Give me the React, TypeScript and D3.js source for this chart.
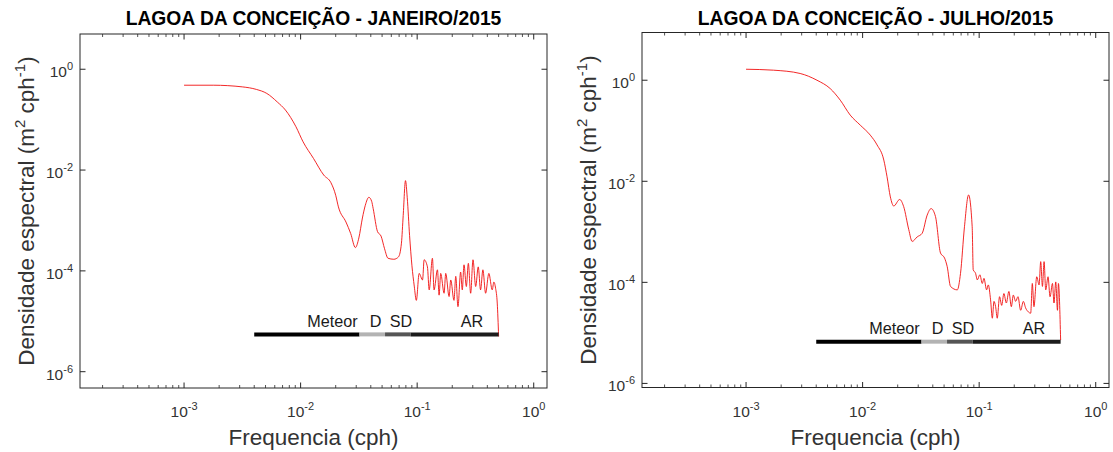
import React from 'react';
import * as d3 from 'd3';

// espectros: [frequencia (cph), densidade (m2 cph-1)]
const JAN_SPECTRUM: [number, number][] = [
  [0.001, 0.482], [0.00178, 0.482], [0.00316, 0.447], [0.00417, 0.398], [0.00513, 0.331],
  [0.00631, 0.224], [0.00741, 0.155], [0.00912, 0.0724], [0.0105, 0.0363], [0.0129, 0.017],
  [0.0158, 0.00794], [0.0182, 0.00562], [0.02, 0.00316], [0.0211, 0.00186], [0.0245, 9.3e-4],
  [0.0269, 5.5e-4], [0.0295, 2.9e-4], [0.0316, 4.5e-4], [0.0339, 0.00112], [0.0359, 0.002],
  [0.0385, 0.00288], [0.0407, 0.0024], [0.0419, 0.00174], [0.0457, 6.0e-4], [0.049, 4.9e-4],
  [0.0525, 2.75e-4], [0.0562, 1.78e-4], [0.0631, 1.7e-4], [0.0692, 1.9e-4], [0.0733, 3.55e-4],
  [0.0759, 0.00126], [0.0794, 0.00617], [0.0822, 0.00282], [0.0861, 5.0e-4], [0.0902, 1.26e-4],
  [0.0944, 5.0e-5], [0.0984, 2.6e-5], [0.104, 8.9e-5], [0.1112, 6.6e-5], [0.1148, 1.66e-4],
  [0.1225, 1.2e-4], [0.1268, 4.2e-5], [0.1352, 1.78e-4], [0.1396, 4.2e-5], [0.1493, 1.05e-4],
  [0.1542, 3.3e-5], [0.1592, 8.9e-5], [0.1702, 3.6e-5], [0.1758, 8.9e-5], [0.1879, 3.1e-5],
  [0.1941, 6.6e-5], [0.207, 2.6e-5], [0.2143, 7.8e-5], [0.2239, 1.95e-5], [0.236, 9.5e-5],
  [0.2438, 4.2e-5], [0.2523, 1.32e-4], [0.2642, 4.9e-5], [0.2748, 1.41e-4], [0.2877, 3.6e-5],
  [0.3013, 1.66e-4], [0.3177, 4.9e-5], [0.3342, 1.2e-4], [0.3499, 4.2e-5], [0.3664, 1.05e-4],
  [0.3864, 3.6e-5], [0.4121, 8.9e-5], [0.4406, 4.2e-5], [0.455, 6.0e-5], [0.471, 4.5e-5],
  [0.4864, 2.3e-5], [0.5, 5.0e-6],
];

const JUL_SPECTRUM: [number, number][] = [
  [0.001, 1.65], [0.00172, 1.58], [0.00291, 1.36], [0.00406, 1.0], [0.00527, 0.684],
  [0.00643, 0.403], [0.00783, 0.204], [0.00955, 0.129], [0.01164, 0.0818], [0.0133, 0.0525],
  [0.0152, 0.0263], [0.0162, 0.0123], [0.0173, 0.0049], [0.0185, 0.00324], [0.0208, 0.00437],
  [0.0225, 0.00316], [0.0249, 0.0011], [0.0266, 6.46e-4], [0.0294, 7.94e-4], [0.0324, 9.33e-4],
  [0.0358, 0.00214], [0.0387, 0.00288], [0.0422, 0.002], [0.0466, 3.8e-4], [0.0505, 3.02e-4],
  [0.0532, 2.04e-4], [0.0568, 8.3e-5], [0.0649, 7.1e-5], [0.0692, 1.51e-4], [0.0748, 0.00126],
  [0.0811, 0.00537], [0.0871, 0.00126], [0.0889, 1.78e-4], [0.0931, 1.51e-4], [0.0964, 1.12e-4],
  [0.1014, 1.41e-4], [0.1064, 9.5e-5], [0.1099, 1.2e-4], [0.1159, 7.1e-5], [0.1197, 8.9e-5],
  [0.1253, 4.5e-5], [0.1297, 1.95e-5], [0.134, 4.2e-5], [0.1384, 3.3e-5], [0.1429, 1.95e-5],
  [0.1496, 5.2e-5], [0.156, 3.5e-5], [0.163, 6.0e-5], [0.171, 3.9e-5], [0.1799, 6.6e-5],
  [0.1888, 3.3e-5], [0.1963, 5.6e-5], [0.2056, 4.2e-5], [0.2153, 5.2e-5], [0.227, 2.8e-5],
  [0.2393, 4.2e-5], [0.2506, 3.1e-5], [0.2642, 2.6e-5], [0.2767, 2.45e-5], [0.2858, 9.5e-5],
  [0.2951, 3.3e-5], [0.3119, 1.29e-4], [0.3266, 8.9e-5], [0.3373, 2.57e-4], [0.3491, 8.3e-5],
  [0.3606, 2.57e-4], [0.3724, 7.1e-5], [0.39, 1.29e-4], [0.4055, 5.2e-5], [0.4256, 9.5e-5],
  [0.4385, 3.9e-5], [0.4539, 1.02e-4], [0.4699, 2.8e-5], [0.4786, 9.5e-5], [0.5, 7.2e-6],
];

const X_LIMITS: [number, number] = [1.28e-4, 1.3];
const JAN_Y_LIMITS: [number, number] = [4.75e-7, 5.0];
const JUL_Y_LIMITS: [number, number] = [8.3e-7, 8.8];
const X_TICKS = [1e-3, 1e-2, 1e-1, 1e0];
const X_TICK_EXP = ['-3', '-2', '-1', '0'];
const Y_TICKS = [1e0, 1e-2, 1e-4, 1e-6];
const Y_TICK_EXP = ['0', '-2', '-4', '-6'];

// bandas: meteorologica, diurna, semi-diurna, alta frequencia
const BAND_NAMES = ['Meteor', 'D', 'SD', 'AR'];
const BAND_EDGES = [0.004, 0.032, 0.053, 0.088, 0.5];
const BAND_LABEL_FREQ = [0.0188, 0.044, 0.0725, 0.295];
const JAN_BAND_LEVEL = 5.5e-6;
const JUL_BAND_LEVEL = 6.7e-6;

const BAND_COLORS = ['#000000', '#b3b3b3', '#555555', '#1c1c1c'];
const AXIS_COLOR = '#262626';
const FONT = '"Liberation Sans", Arial, Helvetica, sans-serif';

type Box = { left: number; right: number; top: number; bottom: number };

function Panel({ box, title, spectrum, yLimits, bandLevel }: {
  box: Box; title: string; spectrum: [number, number][]; yLimits: [number, number]; bandLevel: number;
}) {
  const x = d3.scaleLog().domain(X_LIMITS).range([box.left, box.right]);
  const y = d3.scaleLog().domain(yLimits).range([box.bottom, box.top]);
  const line = d3.line<[number, number]>()
    .x(d => x(d[0]))
    .y(d => y(d[1]))
    .curve(d3.curveMonotoneX);

  const minorTicks = x.ticks().filter(v => {
    const l = Math.log10(v);
    return Math.abs(l - Math.round(l)) > 1e-6;
  });
  const cx = (box.left + box.right) / 2;
  const cy = (box.top + box.bottom) / 2;
  const yb = y(bandLevel);

  return (
    <g fontFamily={FONT}>
      <text x={cx} y={25} textAnchor="middle" fontSize={19.3} fontWeight="bold" fill="#000">{title}</text>

      <path d={line(spectrum) || ''} fill="none" stroke="#f01010" strokeWidth={0.9} />

      {BAND_NAMES.map((name, i) => (
        <line key={name} x1={x(BAND_EDGES[i])} x2={x(BAND_EDGES[i + 1])} y1={yb} y2={yb}
          stroke={BAND_COLORS[i]} strokeWidth={4} />
      ))}
      {BAND_NAMES.map((name, i) => (
        <text key={'l' + name} x={x(BAND_LABEL_FREQ[i])} y={yb - 7.5} textAnchor="middle"
          fontSize={16.2} fill="#1a1a1a">{name}</text>
      ))}

      <rect x={box.left} y={box.top} width={box.right - box.left} height={box.bottom - box.top}
        fill="none" stroke={AXIS_COLOR} strokeWidth={1} />

      {minorTicks.map(v => (
        <g key={'m' + v} stroke={AXIS_COLOR} strokeWidth={0.8}>
          <line x1={x(v)} x2={x(v)} y1={box.bottom} y2={box.bottom - 3} />
          <line x1={x(v)} x2={x(v)} y1={box.top} y2={box.top + 3} />
        </g>
      ))}
      {X_TICKS.map((v, i) => (
        <g key={'x' + v}>
          <line x1={x(v)} x2={x(v)} y1={box.bottom} y2={box.bottom - 5.5} stroke={AXIS_COLOR} />
          <line x1={x(v)} x2={x(v)} y1={box.top} y2={box.top + 5.5} stroke={AXIS_COLOR} />
          <text x={x(v)} y={box.bottom + 29} textAnchor="middle" fontSize={15.5} fill="#333">
            10<tspan dy={-7} fontSize={11}>{X_TICK_EXP[i]}</tspan>
          </text>
        </g>
      ))}
      {Y_TICKS.map((v, i) => (
        <g key={'y' + v}>
          <line x1={box.left} x2={box.left + 5.5} y1={y(v)} y2={y(v)} stroke={AXIS_COLOR} />
          <line x1={box.right} x2={box.right - 5.5} y1={y(v)} y2={y(v)} stroke={AXIS_COLOR} />
          <text x={box.left - 7} y={y(v) + 8} textAnchor="end" fontSize={15.5} fill="#333">
            10<tspan dy={-7} fontSize={11}>{Y_TICK_EXP[i]}</tspan>
          </text>
        </g>
      ))}

      <text x={cx} y={box.bottom + 57} textAnchor="middle" fontSize={22.5} fill="#333">Frequencia (cph)</text>
      <text transform={`translate(${box.left - 46},${cy}) rotate(-90)`} textAnchor="middle" fontSize={22.5} fill="#333">
        Densidade espectral (m<tspan dy={-9} fontSize={15}>2</tspan>
        <tspan dy={9}>{' cph'}</tspan><tspan dy={-9} fontSize={15}>-1</tspan><tspan dy={9}>)</tspan>
      </text>
    </g>
  );
}

export default function App() {
  return (
    <svg width={1113} height={452} style={{ position: 'absolute', left: 0, top: 0, background: '#fff' }}>
      <Panel box={{ left: 80, right: 547, top: 34, bottom: 388 }}
        title="LAGOA DA CONCEIÇÃO - JANEIRO/2015" spectrum={JAN_SPECTRUM}
        yLimits={JAN_Y_LIMITS} bandLevel={JAN_BAND_LEVEL} />
      <Panel box={{ left: 642, right: 1109, top: 32.5, bottom: 387.5 }}
        title="LAGOA DA CONCEIÇÃO - JULHO/2015" spectrum={JUL_SPECTRUM}
        yLimits={JUL_Y_LIMITS} bandLevel={JUL_BAND_LEVEL} />
    </svg>
  );
}
